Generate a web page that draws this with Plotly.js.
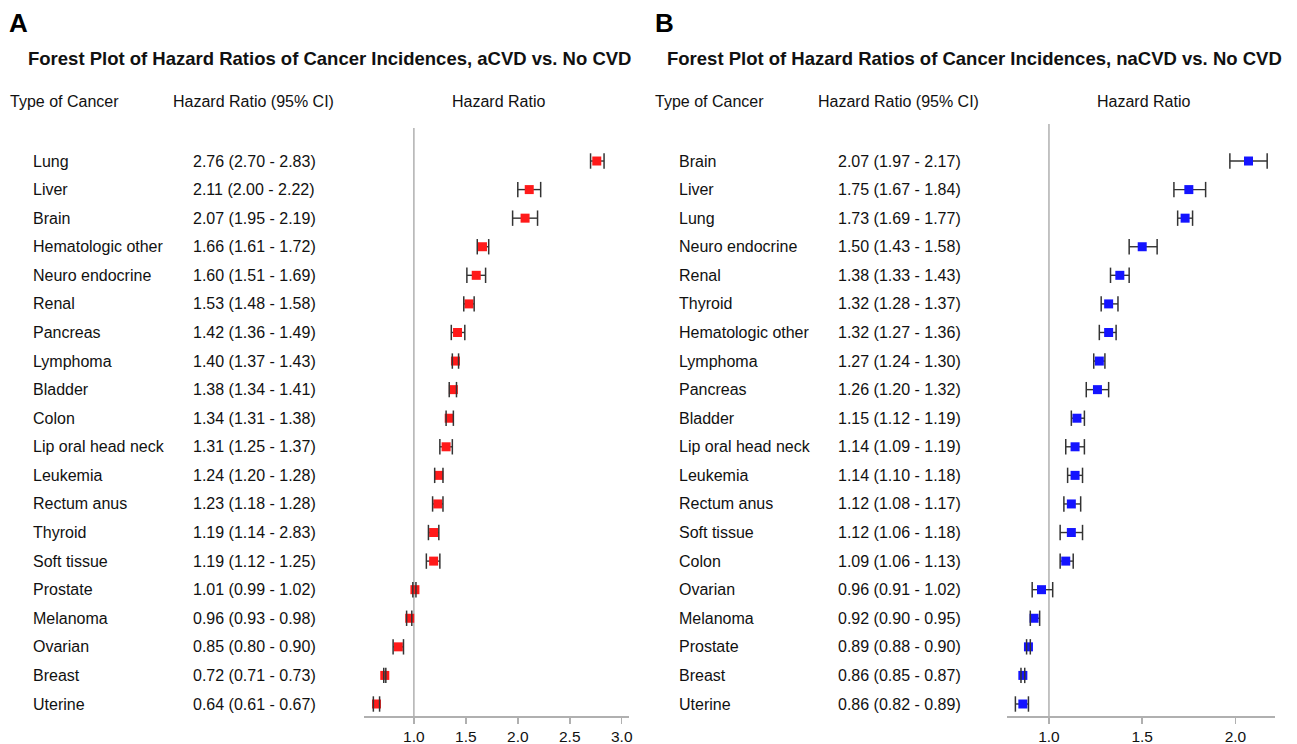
<!DOCTYPE html>
<html>
<head>
<meta charset="utf-8">
<script src="https://cdn.plot.ly/plotly-3.0.1.min.js"></script>
<style>html,body{margin:0;padding:0;background:#fff;}#chart{width:1297px;height:744px;}</style>
</head>
<body>
<div id="chart"></div>
<script>
// ---------- Panel A data (aCVD vs. No CVD) ----------
const cancerA = ["Lung","Liver","Brain","Hematologic other","Neuro endocrine","Renal","Pancreas","Lymphoma","Bladder","Colon","Lip oral head neck","Leukemia","Rectum anus","Thyroid","Soft tissue","Prostate","Melanoma","Ovarian","Breast","Uterine"];
const hrA = [2.76,2.11,2.07,1.66,1.60,1.53,1.42,1.40,1.38,1.34,1.31,1.24,1.23,1.19,1.19,1.01,0.96,0.85,0.72,0.64];
const loA = [2.70,2.00,1.95,1.61,1.51,1.48,1.36,1.37,1.34,1.31,1.25,1.20,1.18,1.14,1.12,0.99,0.93,0.80,0.71,0.61];
const hiA = [2.83,2.22,2.19,1.72,1.69,1.58,1.49,1.43,1.41,1.38,1.37,1.28,1.28,1.24,1.25,1.02,0.98,0.90,0.73,0.67];
const ciLabelsA = ["2.76 (2.70 - 2.83)","2.11 (2.00 - 2.22)","2.07 (1.95 - 2.19)","1.66 (1.61 - 1.72)","1.60 (1.51 - 1.69)","1.53 (1.48 - 1.58)","1.42 (1.36 - 1.49)","1.40 (1.37 - 1.43)","1.38 (1.34 - 1.41)","1.34 (1.31 - 1.38)","1.31 (1.25 - 1.37)","1.24 (1.20 - 1.28)","1.23 (1.18 - 1.28)","1.19 (1.14 - 2.83)","1.19 (1.12 - 1.25)","1.01 (0.99 - 1.02)","0.96 (0.93 - 0.98)","0.85 (0.80 - 0.90)","0.72 (0.71 - 0.73)","0.64 (0.61 - 0.67)"];
const ticksA = [1.0,1.5,2.0,2.5,3.0];
const tickTextA = ["1.0","1.5","2.0","2.5","3.0"];

// ---------- Panel B data (naCVD vs. No CVD) ----------
const cancerB = ["Brain","Liver","Lung","Neuro endocrine","Renal","Thyroid","Hematologic other","Lymphoma","Pancreas","Bladder","Lip oral head neck","Leukemia","Rectum anus","Soft tissue","Colon","Ovarian","Melanoma","Prostate","Breast","Uterine"];
const hrB = [2.07,1.75,1.73,1.50,1.38,1.32,1.32,1.27,1.26,1.15,1.14,1.14,1.12,1.12,1.09,0.96,0.92,0.89,0.86,0.86];
const loB = [1.97,1.67,1.69,1.43,1.33,1.28,1.27,1.24,1.20,1.12,1.09,1.10,1.08,1.06,1.06,0.91,0.90,0.88,0.85,0.82];
const hiB = [2.17,1.84,1.77,1.58,1.43,1.37,1.36,1.30,1.32,1.19,1.19,1.18,1.17,1.18,1.13,1.02,0.95,0.90,0.87,0.89];
const ciLabelsB = ["2.07 (1.97 - 2.17)","1.75 (1.67 - 1.84)","1.73 (1.69 - 1.77)","1.50 (1.43 - 1.58)","1.38 (1.33 - 1.43)","1.32 (1.28 - 1.37)","1.32 (1.27 - 1.36)","1.27 (1.24 - 1.30)","1.26 (1.20 - 1.32)","1.15 (1.12 - 1.19)","1.14 (1.09 - 1.19)","1.14 (1.10 - 1.18)","1.12 (1.08 - 1.17)","1.12 (1.06 - 1.18)","1.09 (1.06 - 1.13)","0.96 (0.91 - 1.02)","0.92 (0.90 - 0.95)","0.89 (0.88 - 0.90)","0.86 (0.85 - 0.87)","0.86 (0.82 - 0.89)"];
const ticksB = [1.0,1.5,2.0];
const tickTextB = ["1.0","1.5","2.0"];

const titleA = "Forest Plot of Hazard Ratios of Cancer Incidences, aCVD vs. No CVD";
const titleB = "Forest Plot of Hazard Ratios of Cancer Incidences, naCVD vs. No CVD";
const headers = ["Type of Cancer","Hazard Ratio (95% CI)","Hazard Ratio"];

// ---------- geometry ----------
const W = 1297, H = 744;
const px = v => v / W;
const py = v => 1 - v / H;
const FONT = "Liberation Sans, Arial, sans-serif";
const txt = {family: FONT, size: 16, color: "#111"};
const ERR = "#333";

function forestTraces(x, y, lo, hi, color, xa, ya) {
  return [
    { // CI line + marker
      type: "scatter", mode: "markers", x: x, y: y, xaxis: xa, yaxis: ya,
      marker: {symbol: "square", size: 9, color: color},
      error_x: {type: "data", symmetric: false,
        array: hi.map((h, i) => h - x[i]),
        arrayminus: lo.map((l, i) => x[i] - l),
        color: ERR, thickness: 1.4, width: 0},
      hoverinfo: "skip", showlegend: false
    },
    { // end caps drawn over the markers
      type: "scatter", mode: "markers", x: lo.concat(hi), y: y.concat(y), xaxis: xa, yaxis: ya,
      marker: {symbol: "line-ns-open", size: 11, color: ERR, line: {color: ERR, width: 1.5}},
      hoverinfo: "skip", showlegend: false
    }
  ];
}

const data = [].concat(
  forestTraces(hrA, cancerA, loA, hiA, "#ff1a1a", "x", "y"),
  forestTraces(hrB, cancerB, loB, hiB, "#1414ff", "x2", "y2")
);

const annotations = [];
function rowText(cats, cis, yref, xName, xCi) {
  cats.forEach((c, i) => {
    annotations.push({xref: "paper", yref: yref, x: px(xName), y: c, xanchor: "left", yanchor: "middle",
      text: c, showarrow: false, font: txt});
    annotations.push({xref: "paper", yref: yref, x: px(xCi), y: c, xanchor: "left", yanchor: "middle",
      text: cis[i], showarrow: false, font: txt});
  });
}
rowText(cancerA, ciLabelsA, "y", 31, 191);
rowText(cancerB, ciLabelsB, "y2", 677, 836);

function panelText(letter, xLetter, title, xTitle, xH1, xH2, xH3) {
  annotations.push({xref: "paper", yref: "paper", x: px(xLetter), y: py(23), xanchor: "left", yanchor: "middle",
    text: "<b>" + letter + "</b>", showarrow: false, font: {family: FONT, size: 26, color: "#000"}});
  annotations.push({xref: "paper", yref: "paper", x: px(xTitle), y: py(58), xanchor: "center", yanchor: "middle",
    text: "<b>" + title + "</b>", showarrow: false, font: {family: FONT, size: 18.5, color: "#111"}});
  annotations.push({xref: "paper", yref: "paper", x: px(xH1), y: py(102), xanchor: "left", yanchor: "middle",
    text: headers[0], showarrow: false, font: txt});
  annotations.push({xref: "paper", yref: "paper", x: px(xH2), y: py(102), xanchor: "left", yanchor: "middle",
    text: headers[1], showarrow: false, font: txt});
  annotations.push({xref: "paper", yref: "paper", x: px(xH3), y: py(102), xanchor: "center", yanchor: "middle",
    text: headers[2], showarrow: false, font: txt});
}
panelText("A", 7, titleA, 329, 8, 171, 498);
panelText("B", 653, titleB, 974, 653, 816, 1143);

const yBottom = py(716);
const xaxisBase = {showline: true, linecolor: "#b0b0b0", linewidth: 1.5, ticks: "outside", ticklen: 6,
  tickcolor: "#b0b0b0", tickwidth: 1.5, showgrid: false, zeroline: false,
  tickfont: {family: FONT, size: 15.5, color: "#111"}, fixedrange: true};
const yaxisBase = {type: "category", showline: false, showgrid: false, zeroline: false,
  showticklabels: false, ticks: "", fixedrange: true, autorange: false};

const layout = {
  width: W, height: H, margin: {l: 0, r: 0, t: 0, b: 0},
  paper_bgcolor: "#fff", plot_bgcolor: "rgba(0,0,0,0)", showlegend: false,
  xaxis: Object.assign({}, xaxisBase, {domain: [px(364), px(629)], range: [0.52, 3.07], anchor: "y",
    tickvals: ticksA, ticktext: tickTextA}),
  yaxis: Object.assign({}, yaxisBase, {domain: [yBottom, py(128)], anchor: "x",
    categoryarray: cancerA, categoryorder: "array", range: [19.42, -1.155]}),
  xaxis2: Object.assign({}, xaxisBase, {domain: [px(1007), px(1275)], range: [0.775, 2.212], anchor: "y2",
    tickvals: ticksB, ticktext: tickTextB}),
  yaxis2: Object.assign({}, yaxisBase, {domain: [yBottom, py(124)], anchor: "x2",
    categoryarray: cancerB, categoryorder: "array", range: [19.42, -1.295]}),
  shapes: [
    {type: "line", xref: "x", yref: "paper", x0: 1, x1: 1, y0: yBottom, y1: py(128),
      line: {color: "#b0b0b0", width: 1.5}, layer: "below"},
    {type: "line", xref: "x2", yref: "paper", x0: 1, x1: 1, y0: yBottom, y1: py(124),
      line: {color: "#b0b0b0", width: 1.5}, layer: "below"}
  ],
  annotations: annotations
};

Plotly.newPlot("chart", data, layout, {displayModeBar: false, staticPlot: true});
</script>
</body>
</html>
